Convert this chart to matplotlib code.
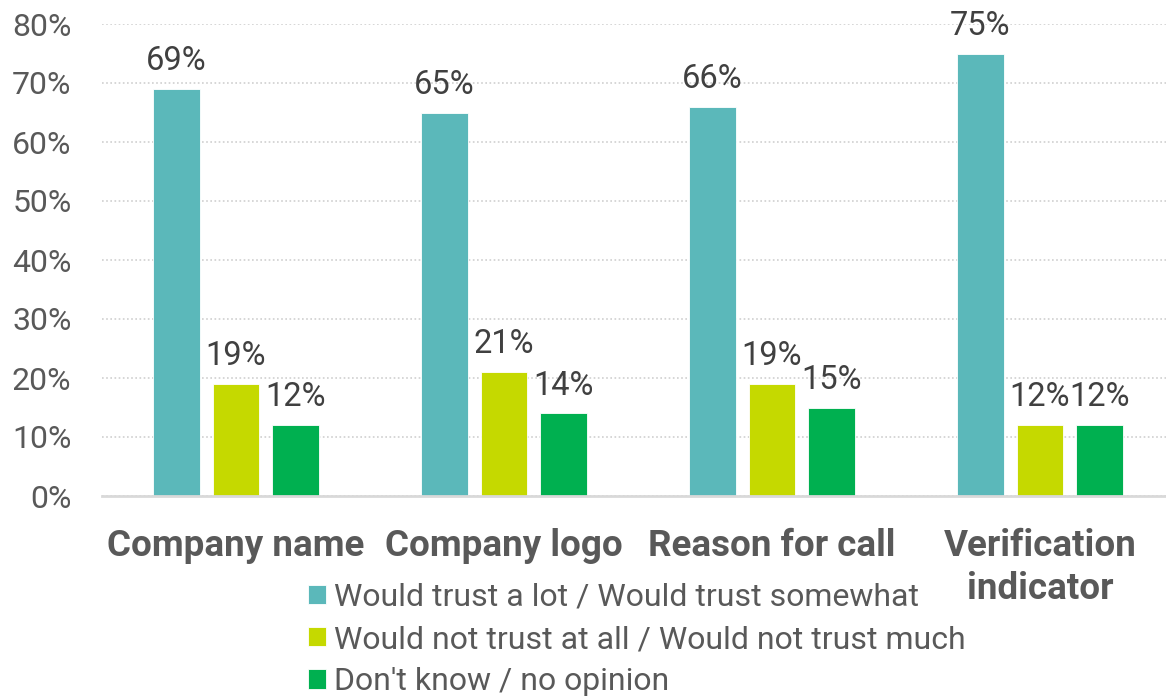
import matplotlib
matplotlib.use("Agg")
import matplotlib.pyplot as plt
import numpy as np

categories = ["Company name", "Company logo", "Reason for call", "Verification\nindicator"]
series_names = [
    "Would trust a lot / Would trust somewhat",
    "Would not trust at all / Would not trust much",
    "Don't know / no opinion",
]
trust = [69, 65, 66, 75]
not_trust = [19, 21, 19, 12]
no_opinion = [12, 14, 15, 12]
yticks = [0, 10, 20, 30, 40, 50, 60, 70, 80]

colors = ["#5BB8BA", "#C5D900", "#00B050"]
values = [trust, not_trust, no_opinion]

plt.rcParams["font.family"] = ["Roboto", "DejaVu Sans"]

W, H = 1166, 698
fig = plt.figure(figsize=(W / 100, H / 100), dpi=100)
ax = fig.add_axes([102 / W, 1 - 496 / H, 1 - 102 / W, (496 - 24) / H])

x = np.arange(len(categories))
bar_w = 0.175
offset = 0.223
bars = []
for i, (vals, col) in enumerate(zip(values, colors)):
    pos = x + (i - 1) * offset
    b = ax.bar(pos, vals, width=bar_w, color=col, edgecolor="white", linewidth=0.6,
               zorder=3, label=series_names[i])
    bars.append(b)
    for xp, v in zip(pos, vals):
        ax.text(xp, v + 2.0, f"{v}%", ha="center", va="bottom", fontsize=23.5,
                color="#404040", clip_on=False)

ax.set_xlim(-0.5, 3.47)
ax.set_ylim(0, 80)
ax.set_yticks(yticks)
ax.set_yticklabels([f"{t}%" for t in yticks], fontsize=23, color="#595959")
ax.tick_params(axis="y", length=0, pad=22)
ax.set_xticks([])
ax.yaxis.grid(True, linestyle=(0, (1, 1.5)), color="#CFCFCF", linewidth=1.2, zorder=0)
for s in ["top", "right", "left"]:
    ax.spines[s].set_visible(False)
ax.spines["bottom"].set_color("#D9D9D9")
ax.spines["bottom"].set_linewidth(2)
ax.spines["bottom"].set_zorder(4)

for xc, name in zip(x, categories):
    ax.text(xc, -5.4, name, ha="center", va="top", fontsize=26.5, fontweight="bold",
            color="#595959", linespacing=1.24, clip_on=False)

fig.legend(handles=bars, labels=series_names, loc="upper left",
           bbox_to_anchor=(308 / W, 1 - 583 / H), frameon=False, fontsize=23,
           labelcolor="#595959", handlelength=0.55, handleheight=0.55,
           handletextpad=0.25, labelspacing=0.41, borderpad=0, borderaxespad=0)

fig.savefig("out.png", dpi=100)
